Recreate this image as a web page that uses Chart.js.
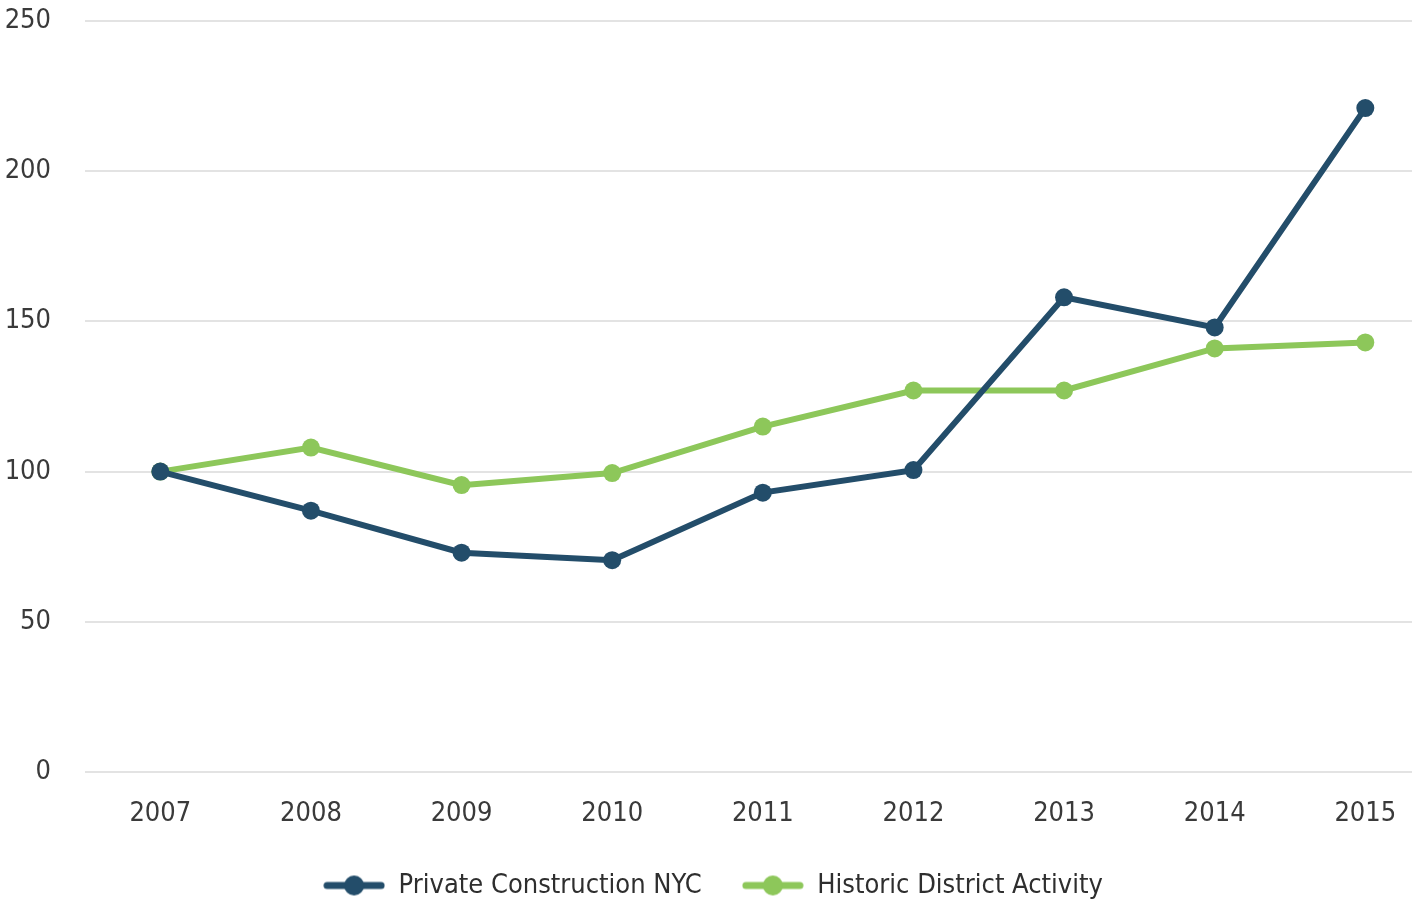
<!DOCTYPE html>
<html>
<head>
<meta charset="utf-8">
<script src="https://cdn.jsdelivr.net/npm/chart.js@4/dist/chart.umd.min.js"></script>
<style>
  html, body { margin: 0; padding: 0; background: #fff; }
  #wrap { width: 1421px; height: 900px; }
</style>
</head>
<body>
<div id="wrap"><canvas id="chart"></canvas></div>
<script>
const years = ['2007', '2008', '2009', '2010', '2011', '2012', '2013', '2014', '2015'];
const privateConstruction = [100, 87, 73, 70.5, 93, 100.5, 158, 148, 221];
const historicDistrict = [100, 108, 95.5, 99.5, 115, 127, 127, 141, 143];
const yTicks = [0, 50, 100, 150, 200, 250];

const DARK = '#234d6a';
const GREEN = '#8dc75a';
const FONT = "'Liberation Sans Narrow', 'DejaVu Sans Condensed', sans-serif";

// one point per year, x = position of the year in the list
const toPoints = (values) => values.map((v, i) => ({ x: i, y: v }));

// legend marker: short thick line with a dot in the middle
function legendMarker(color) {
  const c = document.createElement('canvas');
  c.width = 62; c.height = 22;
  const g = c.getContext('2d');
  g.strokeStyle = color;
  g.lineWidth = 7;
  g.lineCap = 'round';
  g.beginPath();
  g.moveTo(4, 11);
  g.lineTo(58, 11);
  g.stroke();
  g.fillStyle = color;
  g.beginPath();
  g.arc(31, 11, 10, 0, Math.PI * 2);
  g.fill();
  return c;
}

// fix the legend block height so the plot area lands where the original one does
const legendHeight = {
  id: 'legendHeight',
  afterInit(chart) {
    const lg = chart.legend;
    const origFit = lg.fit.bind(lg);
    lg.fit = function () {
      origFit();
      this.height = 68;
    };
  }
};

Chart.defaults.font.family = FONT;

new Chart(document.getElementById('chart'), {
  type: 'line',
  data: {
    datasets: [
      {
        label: 'Private Construction NYC',
        data: toPoints(privateConstruction),
        borderColor: DARK,
        backgroundColor: DARK,
        borderWidth: 6,
        pointRadius: 9,
        pointBorderWidth: 0,
        tension: 0
      },
      {
        label: 'Historic District Activity',
        data: toPoints(historicDistrict),
        borderColor: GREEN,
        backgroundColor: GREEN,
        borderWidth: 6,
        pointRadius: 9,
        pointBorderWidth: 0,
        tension: 0
      }
    ]
  },
  options: {
    responsive: true,
    maintainAspectRatio: false,
    animation: false,
    layout: { padding: { left: 6, right: 1, top: 0, bottom: 0 } },
    scales: {
      x: {
        type: 'linear',
        min: -0.5,
        max: 8.31,
        afterBuildTicks: (axis) => { axis.ticks = years.map((_, i) => ({ value: i })); },
        grid: { display: false, drawTicks: false },
        border: { display: false },
        ticks: {
          color: '#3a3a3a',
          font: { size: 27 },
          padding: 26,
          maxRotation: 0,
          autoSkip: false,
          callback: (v) => years[v]
        },
        afterFit: (axis) => {
          axis.height = 60;
          axis.paddingLeft = 0;
          axis.paddingRight = 0;
        }
      },
      y: {
        min: 0,
        max: 250,
        afterBuildTicks: (axis) => { axis.ticks = yTicks.map(v => ({ value: v })); },
        grid: { color: '#e3e3e3', lineWidth: 2, drawTicks: false },
        border: { display: false },
        ticks: { color: '#3a3a3a', font: { size: 27 }, padding: 34 },
        afterFit: (axis) => {
          axis.width = 79;
          axis.paddingTop = 21;
          axis.paddingBottom = 0;
        }
      }
    },
    plugins: {
      legend: {
        position: 'bottom',
        labels: {
          color: '#2e2e2e',
          font: { size: 27 },
          usePointStyle: true,
          pointStyleWidth: 62,
          padding: 40,
          generateLabels: (chart) => chart.data.datasets.map((ds, i) => ({
            text: ds.label,
            pointStyle: legendMarker(ds.borderColor),
            fillStyle: ds.borderColor,
            strokeStyle: ds.borderColor,
            lineWidth: 0,
            fontColor: '#2e2e2e',
            datasetIndex: i
          }))
        }
      },
      tooltip: { enabled: false }
    }
  },
  plugins: [legendHeight]
});
</script>
</body>
</html>
